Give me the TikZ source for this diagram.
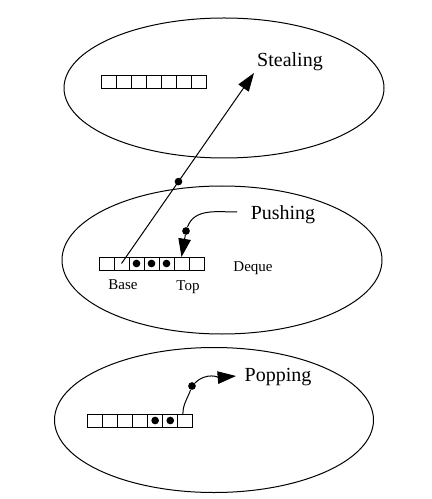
\documentclass[tikz,border=0pt]{standalone}
\usepackage{fontspec}
\setmainfont{Liberation Serif}
\usetikzlibrary{shapes.geometric, arrows.meta, positioning}

\begin{document}
\begin{tikzpicture}[x=0.6pt, y=-0.6pt,
      zone/.style={ellipse, draw, line width=0.6pt, inner sep=0pt},
      cell/.style={draw, line width=0.6pt, minimum width=9pt, minimum height=7.8pt, inner sep=0pt, outer sep=0pt},
      token/.style={circle, fill, inner sep=0pt, minimum size=4.6pt},
      action/.style={font=\large},
      tag/.style={font=\small},
      arrow/.style={-{Triangle[length=11pt,width=7.5pt]}, line width=0.6pt}
    ]
    \useasboundingbox (0,0) rectangle (432,499);

    % the three processors
    \node[zone, minimum width=192pt, minimum height=84pt] (stealZone) at (224,88) {};
    \node[zone, minimum width=192pt, minimum height=88.8pt] (pushZone) at (222,260) {};
    \node[zone, minimum width=191.4pt, minimum height=87pt] (popZone) at (214,420) {};

    % deques
    \foreach \i in {1,...,7}
      \node[cell] (s\i) at ({102+(\i-0.5)*14.9}, 82.5) {};
    \foreach \i in {1,...,7}
      \node[cell] (m\i) at ({99+(\i-0.5)*15}, 263.5) {};
    \foreach \i in {1,...,7}
      \node[cell] (p\i) at ({87+(\i-0.5)*15.14}, 420.5) {};
    \foreach \i in {3,4,5}
      \node[token] at (m\i) {};
    \foreach \i in {5,6}
      \node[token] at (p\i) {};

    % labels
    \node[action] (steal) at (290,62) {Stealing};
    \node[action] (push) at (283,215) {Pushing};
    \node[action] (pop) at (278,377) {Popping};
    \node[tag] (deque) at (253,268) {Deque};
    \node[tag] (base) at (123,285) {Base};
    \node[tag] (top) at (188,287) {Top};

    % stealing
    \coordinate (stealTip) at (254,73);
    \draw[arrow] (m2.center) -- node[token, pos=0.43] (stealDot) {} (stealTip);

    % pushing
    \coordinate (pushStart) at (237,212);
    \node[token] (pushDot) at (186,231) {};
    \draw[line width=0.6pt] (pushStart) to[out=180, in=70] (pushDot);
    \draw[arrow] (pushDot) -- (m6.north);

    % popping
    \coordinate (popTip) at (236,376);
    \node[token] (popDot) at (192,386) {};
    \draw[line width=0.6pt] ([xshift=-1.5pt]p7.north) to[out=90, in=250] (popDot);
    \draw[arrow] (popDot) to[out=45, in=185] (popTip);
  \end{tikzpicture}
\end{document}
